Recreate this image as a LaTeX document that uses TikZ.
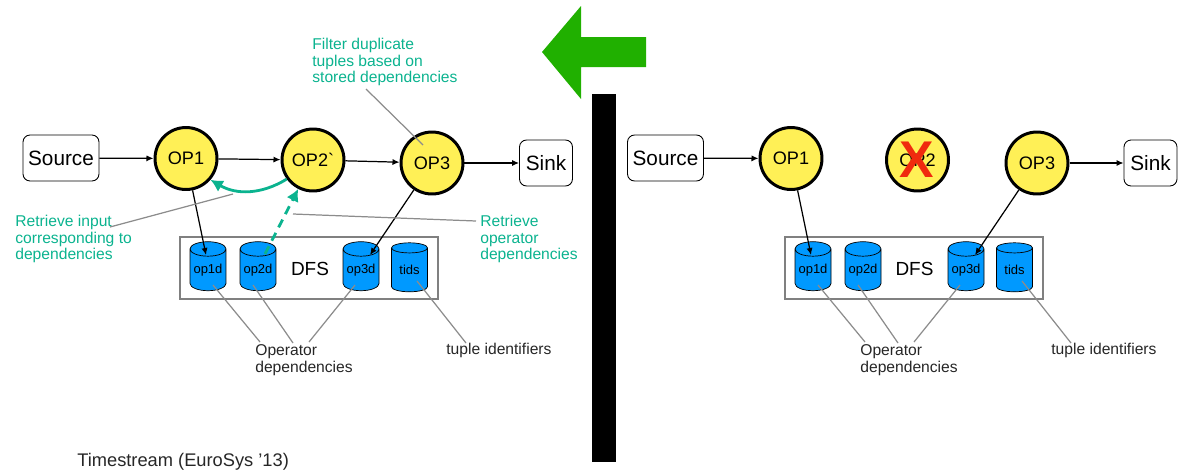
\documentclass[tikz,border=0pt]{standalone}
\usepackage{fontspec}
\setmainfont{Liberation Sans}
\usetikzlibrary{arrows.meta,shapes.geometric}
\definecolor{opyellow}{HTML}{FFF056}
\definecolor{dfsblue}{HTML}{0099FF}
\definecolor{notegreen}{HTML}{0BB38F}
\definecolor{bigarrow}{HTML}{20B000}
\definecolor{crossred}{HTML}{F02A0E}
\tikzset{
  opnode/.style={circle,draw,line width=1.7pt,fill=opyellow,inner sep=0pt,minimum size=62pt*.569,font=\fontsize{10.3}{12}\selectfont},
  endbox/.style={rectangle,draw,rounded corners=4pt,line width=.5pt,inner sep=0pt,font=\fontsize{11.8}{14}\selectfont},
  store/.style={cylinder,shape border rotate=90,draw,line width=.4pt,aspect=.5,inner sep=0pt,minimum width=36*.569pt,minimum height=49*.569pt,
    cylinder uses custom fill,cylinder body fill=dfsblue,cylinder end fill=dfsblue,font=\fontsize{7.4}{9}\selectfont},
  dfsbox/.style={rectangle,draw=black!50,line width=.9pt,inner sep=0pt},
  flow/.style={-{Latex[length=4pt,width=3.5pt]},line width=.7pt},
  fetch/.style={-{Latex[length=7pt,width=7.5pt]},notegreen,line width=1.6pt},
  pointer/.style={black!45,line width=.7pt},
  note/.style={anchor=west,align=left,inner sep=0pt,text=notegreen,font=\fontsize{8.9}{9.5}\selectfont},
  label/.style={anchor=west,align=left,inner sep=0pt,text=black!85,font=\fontsize{8.9}{9.5}\selectfont}
}
\begin{document}
\begin{tikzpicture}[x=.02cm,y=-.02cm]
    \useasboundingbox (0,0) rectangle (1189,474);

    %% left side
    \node[endbox,minimum width=76*.569pt,minimum height=46*.569pt] (lsource) at (61,158) {Source};
    \node[opnode] (lop1) at (186,158.5) {OP1};
    \node[opnode] (lop2) at (313,160) {OP2\textasciigrave};
    \node[opnode] (lop3) at (432,163) {OP3};
    \node[endbox,minimum width=53*.569pt,minimum height=46*.569pt] (lsink) at (546,163) {Sink};

    \node[dfsbox,minimum width=258*.569pt,minimum height=62*.569pt] (ldfs) at (309,268) {};
    \node[store] (lop1d) at (208,270) {op1d};
    \node[store] (lop2d) at (258,270) {op2d};
    \node[store] (lop3d) at (361,270) {op3d};
    \node[store] (ltids) at (409.5,270) {tids};
    \node[font=\fontsize{10.8}{13}\selectfont] (ldfslabel) at (310,269) {DFS};

    \coordinate (lop1dtop) at (206,255);
    \coordinate (lop2dtop) at (265,254);
    \coordinate (lop3dtop) at (370,255);

    \draw[flow] (lsource) -- (lop1);
    \draw[flow] (lop1) -- (lop2);
    \draw[flow] (lop2) -- (lop3);
    \draw[flow] (lop3) -- (lsink);
    \draw[flow] (lop1) -- (lop1dtop);
    \draw[flow] (lop3) -- (lop3dtop);
    \draw[fetch] (lop2.216) to[bend left=31] (lop1.-41);
    \draw[fetch,dashed,dash pattern=on 5pt off 3.5pt] (lop2dtop) -- (lop2);

    %% left notes
    \node[note] (lfilter) at (312,62) {Filter duplicate\\tuples based on\\stored dependencies};
    \node[note] (linput) at (15,239) {Retrieve input\\corresponding to\\dependencies};
    \node[note] (lfetch) at (480,239) {Retrieve\\operator\\dependencies};
    \node[label] (loper) at (255,360.5) {Operator\\dependencies};
    \node[label] (ltuple) at (446,350) {tuple identifiers};

    \coordinate (a1) at (366,89);
    \coordinate (a2) at (423,145);
    \coordinate (b1) at (110,227);
    \coordinate (b2) at (233,194);
    \coordinate (c1) at (476,221);
    \coordinate (c2) at (293,214);
    \draw[pointer] (a1) -- (a2);
    \draw[pointer] (b1) -- (b2);
    \draw[pointer] (c1) -- (c2);

    \coordinate (d1) at (213,285);
    \coordinate (d2) at (260,342);
    \coordinate (e1) at (253,285);
    \coordinate (e2) at (293,343);
    \coordinate (f1) at (355,285);
    \coordinate (f2) at (309,342);
    \coordinate (g1) at (417,281);
    \coordinate (g2) at (466,343);
    \draw[pointer] (d1) -- (d2);
    \draw[pointer] (e1) -- (e2);
    \draw[pointer] (f1) -- (f2);
    \draw[pointer] (g1) -- (g2);

    %% middle
    \fill[bigarrow] (542,52) -- (581,6) -- (581,37) -- (646,37) -- (646,67) -- (581,67) -- (581,99) -- cycle;
    \fill[black] (592,94) rectangle (616,462);

    %% right side
    \node[endbox,minimum width=76*.569pt,minimum height=46*.569pt] (rsource) at (665.5,158) {Source};
    \node[opnode] (rop1) at (791,158.5) {OP1};
    \node[opnode] (rop2) at (917.5,160) {OP2};
    \node[opnode] (rop3) at (1037,163) {OP3};
    \node[endbox,minimum width=53*.569pt,minimum height=46*.569pt] (rsink) at (1150.5,163) {Sink};
    \node[inner sep=0pt,text=crossred,font=\fontsize{29.4}{30}\selectfont\bfseries] (rcross) at (916.5,159.5) {X};

    \node[dfsbox,minimum width=258*.569pt,minimum height=62*.569pt] (rdfs) at (914,268) {};
    \node[store] (rop1d) at (813,270) {op1d};
    \node[store] (rop2d) at (863,270) {op2d};
    \node[store] (rop3d) at (966,270) {op3d};
    \node[store] (rtids) at (1014.5,270) {tids};
    \node[font=\fontsize{10.8}{13}\selectfont] (rdfslabel) at (914.5,269) {DFS};

    \coordinate (rop1dtop) at (811,255);
    \coordinate (rop3dtop) at (975,255);

    \draw[flow] (rsource) -- (rop1);
    \draw[flow] (rop3) -- (rsink);
    \draw[flow] (rop1) -- (rop1dtop);
    \draw[flow] (rop3) -- (rop3dtop);

    %% right notes
    \node[label] (roper) at (860,360.5) {Operator\\dependencies};
    \node[label] (rtuple) at (1051,350) {tuple identifiers};

    \coordinate (h1) at (818,285);
    \coordinate (h2) at (865,342);
    \coordinate (i1) at (858,285);
    \coordinate (i2) at (898,343);
    \coordinate (j1) at (960,285);
    \coordinate (j2) at (914,342);
    \coordinate (k1) at (1022,281);
    \coordinate (k2) at (1071,343);
    \draw[pointer] (h1) -- (h2);
    \draw[pointer] (i1) -- (i2);
    \draw[pointer] (j1) -- (j2);
    \draw[pointer] (k1) -- (k2);

    %% source line
    \node[label,font=\fontsize{10.4}{12}\selectfont] (lcite) at (77,462) {Timestream (EuroSys ’13)};
\end{tikzpicture}
\end{document}
